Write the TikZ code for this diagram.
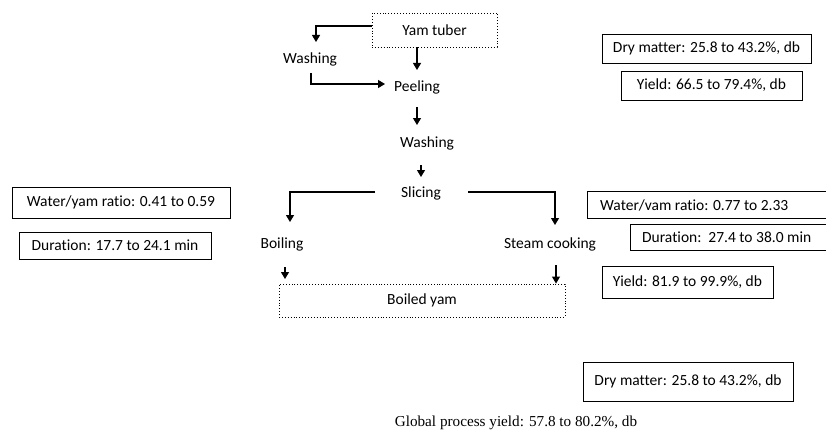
\documentclass[tikz,border=0pt]{standalone}
\usepackage{fontspec}
\setmainfont{Carlito}[RawFeature=-liga]
\newfontfamily\seriffont{Liberation Serif}
\usetikzlibrary{arrows.meta}
\begin{document}
\begin{tikzpicture}[x=1pt,y=-1pt,
  txt/.style={inner sep=0pt, font=\fontsize{15.5}{17}\selectfont},
  infobox/.style={draw, line width=0.8pt, inner sep=0pt, font=\fontsize{15.5}{17}\selectfont},
  dotbox/.style={draw, dotted, line width=0.9pt, inner sep=0pt, font=\fontsize{15.5}{17}\selectfont},
  arr/.style={line width=1.1pt, -{Triangle[length=7pt,width=8pt]}}]
\useasboundingbox (0,0) rectangle (826,433);
\fill[white] (0,0) rectangle (826,433);

% process nodes
\node[dotbox, minimum width=125pt, minimum height=34pt] (yam) at (434.5,30) {Yam tuber};
\node[txt] (wash1) at (310,59) {Washing};
\node[txt] (peel) at (417,87) {Peeling};
\node[txt] (wash2) at (427,143) {Washing};
\node[txt] (slice) at (421,193) {Slicing};
\node[txt] (boil) at (282,244) {Boiling};
\node[txt] (steam) at (550,244) {Steam cooking};
\node[dotbox, minimum width=286pt, minimum height=33pt] (boiled) at (422,300.5) {Boiled yam};

% info boxes
\node[infobox, minimum width=209pt, minimum height=29pt] (dm1) at (706.5,48.5) {Dry matter: 25.8 to 43.2\%, db};
\node[infobox, minimum width=181pt, minimum height=29pt] (y1) at (711.5,85.5) {Yield: 66.5 to 79.4\%, db};
\node[infobox, minimum width=218pt, minimum height=31pt] (wl) at (121,202.5) {Water/yam ratio: 0.41 to 0.59};
\node[infobox, minimum width=192pt, minimum height=27pt] (dl) at (115,245.5) {Duration: 17.7 to 24.1 min};
\node[infobox, anchor=west, minimum width=246pt, minimum height=27pt] (wr) at (587,204.5) {};
\node[txt, anchor=west] (wrt) at (600,205) {Water/vam ratio: 0.77 to 2.33};
\node[infobox, anchor=west, minimum width=204pt, minimum height=26pt] (dr) at (630,237) {};
\node[txt, anchor=west] (drt) at (642,237.5) {Duration:\ \ 27.4 to 38.0 min};
\node[infobox, minimum width=171pt, minimum height=32pt] (yr) at (687.5,282) {Yield: 81.9 to 99.9\%, db};
\node[infobox, minimum width=210pt, minimum height=39pt] (dm2) at (688,381.5) {Dry matter: 25.8 to 43.2\%, db};
\node[inner sep=0pt, font=\seriffont\fontsize{15.2}{17}\selectfont] (glob) at (516,423) {Global process yield: 57.8 to 80.2\%, db};

% connector ends
\coordinate (t1) at (316,42);
\coordinate (t2) at (417,70);
\coordinate (s3) at (311,73);
\coordinate (t3) at (385,84);
\coordinate (s4) at (417,107);
\coordinate (t4) at (417,125);
\coordinate (s5) at (421,165);
\coordinate (t5) at (421,177);
\coordinate (s6) at (375,192);
\coordinate (t6) at (290,222);
\coordinate (s7) at (285,267);
\coordinate (t7) at (285,279);
\coordinate (s8) at (468,192);
\coordinate (t8) at (555,225);
\coordinate (s9) at (556,265);

% connectors
\draw[arr] ([yshift=4pt]yam.west) -| (t1);
\draw[arr] (yam.south -| t2) -- (t2);
\draw[arr] (s3) |- (t3);
\draw[arr] (s4) -- (t4);
\draw[arr] (s5) -- (t5);
\draw[arr] (s6) -| (t6);
\draw[arr] (s7) -- (t7);
\draw[arr] (s8) -| (t8);
\draw[arr] (s9) -- (s9 |- boiled.north);
\end{tikzpicture}
\end{document}
